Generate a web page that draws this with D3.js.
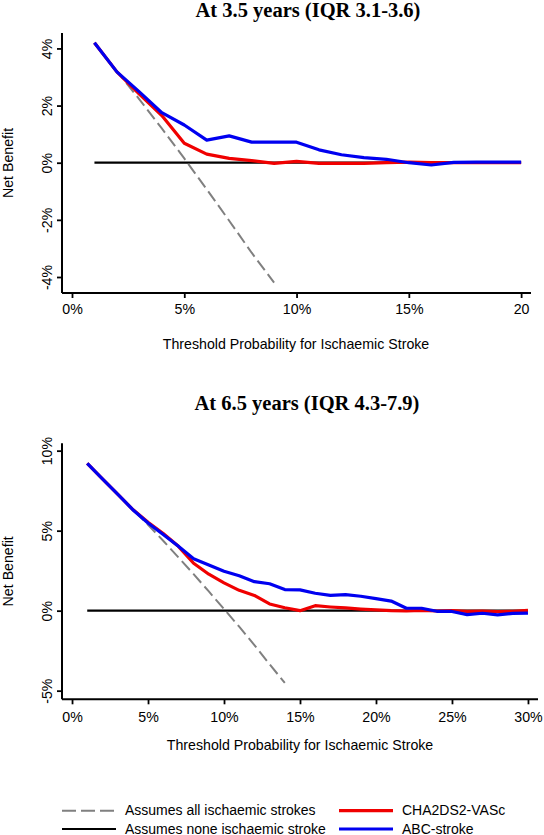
<!DOCTYPE html>
<html>
<head>
<meta charset="utf-8">
<script src="https://cdn.jsdelivr.net/npm/d3@7"></script>
<style>
html,body{margin:0;padding:0;background:#fff;}
svg{display:block;}
</style>
</head>
<body>
<svg id="chart" width="544" height="835"></svg>
<script>
// ---------- DATA ----------
const titles = ["At 3.5 years (IQR 3.1-3.6)", "At 6.5 years (IQR 4.3-7.9)"];
const xTitle = "Threshold Probability for Ischaemic Stroke";
const yTitle = "Net Benefit";

// Top panel (3.5 years)
const thresholdsTop = [1,2,3,4,5,6,7,8,9,10,11,12,13,14,15,16,17,18,19,20];
const abcTop = [4.20,3.18,2.48,1.75,1.32,0.79,0.94,0.72,0.72,0.72,0.45,0.28,0.18,0.12,0.00,-0.08,0.01,0.02,0.02,0.02];
const chaTop = [4.20,3.18,2.40,1.65,0.68,0.30,0.15,0.07,-0.02,0.05,-0.02,-0.02,-0.02,0.00,0.02,0.00,0.00,0.00,0.00,0.00];
const allThrTop = [1,2,3,4,5,6,7,8,9];
const allTop = [4.19,3.20,2.22,1.20,0.15,-0.93,-2.03,-3.15,-4.20];
const noneThrTop = [1,20];
const noneTop = [0,0];
const xTicksTop = [0,5,10,15,20];
const xTickLabelsTop = ["0%","5%","10%","15%","20"];
const yTicksTop = [-4,-2,0,2,4];
const yTickLabelsTop = ["-4%","-2%","0%","2%","4%"];

// Bottom panel (6.5 years)
const thresholdsBot = [1,2,3,4,5,6,7,8,9,10,11,12,13,14,15,16,17,18,19,20,21,22,23,24,25,26,27,28,29,30];
const abcBot = [9.20,8.24,7.29,6.31,5.48,4.76,4.02,3.25,2.86,2.46,2.18,1.81,1.68,1.32,1.30,1.09,0.96,1.00,0.90,0.75,0.60,0.15,0.15,-0.04,-0.05,-0.25,-0.16,-0.26,-0.17,-0.15];
const chaBot = [9.20,8.24,7.28,6.32,5.52,4.82,4.02,2.96,2.28,1.74,1.27,0.95,0.42,0.18,0.00,0.31,0.23,0.17,0.10,0.05,0.00,-0.02,0.02,-0.02,0.00,-0.05,-0.03,-0.06,-0.04,0.02];
const allThrBot = [1,2,3,4,5,6,7,8,9,10,11,12,13,14];
const allBot = [9.20,8.25,7.30,6.35,5.37,4.37,3.33,2.28,1.20,0.10,-1.00,-2.15,-3.35,-4.52];
const noneThrBot = [1,30];
const noneBot = [0,0];
const xTicksBot = [0,5,10,15,20,25,30];
const xTickLabelsBot = ["0%","5%","10%","15%","20%","25%","30%"];
const yTicksBot = [-5,0,5,10];
const yTickLabelsBot = ["-5%","0%","5%","10%"];

const legendLabels = ["Assumes all ischaemic strokes","Assumes none ischaemic stroke","CHA2DS2-VASc","ABC-stroke"];

// ---------- STYLE ----------
const colors = {all:"#808080", none:"#000000", cha:"#f00000", abc:"#0000f0"};
const sans = "'Liberation Sans', Arial, sans-serif";
const serif = "'Liberation Serif', 'Times New Roman', serif";

const svg = d3.select("#chart");

function panel(cfg){
  const g = svg.append("g");
  const x = d3.scaleLinear().domain(cfg.xDomain).range([cfg.left, cfg.right]);
  const y = d3.scaleLinear().domain(cfg.yDomain).range([cfg.bottom, cfg.top]);

  // title
  g.append("text").attr("x", cfg.titleX).attr("y", cfg.titleY)
    .attr("text-anchor","middle").attr("font-family",serif).attr("font-weight","bold")
    .attr("font-size",20.5).text(cfg.title);

  // x axis
  const xAxis = d3.axisBottom(x).tickValues(cfg.xTicks)
    .tickFormat((d,i)=>cfg.xTickLabels[i]).tickSize(5).tickPadding(4).tickSizeOuter(0);
  const xa = g.append("g").attr("transform",`translate(0,${cfg.bottom})`).call(xAxis);
  xa.select(".domain").remove();
  xa.selectAll(".tick line").attr("stroke","#000").attr("stroke-width",1.8);
  xa.selectAll(".tick text").attr("font-family",sans).attr("font-size",14.2).attr("fill","#000")
    .attr("dy",null).attr("y",cfg.xLabelDy);
  g.append("line").attr("x1",cfg.left).attr("x2",cfg.right).attr("y1",cfg.bottom).attr("y2",cfg.bottom)
    .attr("stroke","#000").attr("stroke-width",2);

  // y axis
  const yAxis = d3.axisLeft(y).tickValues(cfg.yTicks)
    .tickFormat((d,i)=>cfg.yTickLabels[i]).tickSize(5).tickSizeOuter(0);
  const ya = g.append("g").attr("transform",`translate(${cfg.left},0)`).call(yAxis);
  ya.select(".domain").remove();
  ya.selectAll(".tick line").attr("stroke","#000").attr("stroke-width",1.8);
  ya.selectAll(".tick text").attr("font-family",sans).attr("font-size",14.2).attr("fill","#000")
    .attr("x",null).attr("dy",null).attr("text-anchor","middle")
    .attr("transform","translate(-10,0) rotate(-90)");
  g.append("line").attr("x1",cfg.left).attr("x2",cfg.left).attr("y1",cfg.top).attr("y2",cfg.bottom)
    .attr("stroke","#000").attr("stroke-width",2);

  // axis titles
  g.append("text").attr("x",cfg.xTitleX).attr("y",cfg.xTitleY)
    .attr("text-anchor","middle").attr("font-family",sans).attr("font-size",14.2).text(xTitle);
  g.append("text").attr("transform",`translate(13,${(cfg.top+cfg.bottom)/2}) rotate(-90)`)
    .attr("text-anchor","middle").attr("font-family",sans).attr("font-size",14.2).text(yTitle);

  const line = d3.line().x(d=>x(d[0])).y(d=>y(d[1]));
  const zip = (a,b)=>a.map((v,i)=>[v,b[i]]);

  g.append("path").datum(zip(cfg.noneX,cfg.noneY)).attr("d",line)
    .attr("fill","none").attr("stroke",colors.none).attr("stroke-width",2.2);
  g.append("path").datum(zip(cfg.allX,cfg.allY)).attr("d",line)
    .attr("fill","none").attr("stroke",colors.all).attr("stroke-width",2).attr("stroke-dasharray","12,5");
  g.append("path").datum(zip(cfg.thr,cfg.cha)).attr("d",line)
    .attr("fill","none").attr("stroke",colors.cha).attr("stroke-width",3.2).attr("stroke-linejoin","round");
  g.append("path").datum(zip(cfg.thr,cfg.abc)).attr("d",line)
    .attr("fill","none").attr("stroke",colors.abc).attr("stroke-width",3.2).attr("stroke-linejoin","round");
}

panel({
  title:titles[0], titleX:308, titleY:16.5,
  left:62, right:531, top:33, bottom:293,
  xDomain:[-0.445,20.44], yDomain:[-4.56,4.54],
  xTicks:xTicksTop, xTickLabels:xTickLabelsTop, yTicks:yTicksTop, yTickLabels:yTickLabelsTop,
  xLabelDy:21, xTitleX:296, xTitleY:348.5,
  thr:thresholdsTop, abc:abcTop, cha:chaTop, allX:allThrTop, allY:allTop, noneX:noneThrTop, noneY:noneTop
});

panel({
  title:titles[1], titleX:307, titleY:410,
  left:62, right:538, top:443.3, bottom:699.3,
  xDomain:[-0.66,30.66], yDomain:[-5.54,10.46],
  xTicks:xTicksBot, xTickLabels:xTickLabelsBot, yTicks:yTicksBot, yTickLabels:yTickLabelsBot,
  xLabelDy:22.5, xTitleX:300, xTitleY:750,
  thr:thresholdsBot, abc:abcBot, cha:chaBot, allX:allThrBot, allY:allBot, noneX:noneThrBot, noneY:noneBot
});

// ---------- LEGEND ----------
const leg = svg.append("g");
const legItems = [
  {label:legendLabels[0], color:colors.all, dash:"14,5", w:2, x:62, y:810.7},
  {label:legendLabels[1], color:colors.none, dash:null, w:2, x:62, y:829},
  {label:legendLabels[2], color:colors.cha, dash:null, w:3.2, x:339, y:810.7},
  {label:legendLabels[3], color:colors.abc, dash:null, w:3.2, x:339, y:829}
];
legItems.forEach(it=>{
  leg.append("line").attr("x1",it.x).attr("x2",it.x+54).attr("y1",it.y).attr("y2",it.y)
    .attr("stroke",it.color).attr("stroke-width",it.w).attr("stroke-dasharray",it.dash);
  leg.append("text").attr("x",it.x+63).attr("y",it.y+4.5).attr("font-family",sans).attr("font-size",14)
    .text(it.label);
});
</script>
</body>
</html>
